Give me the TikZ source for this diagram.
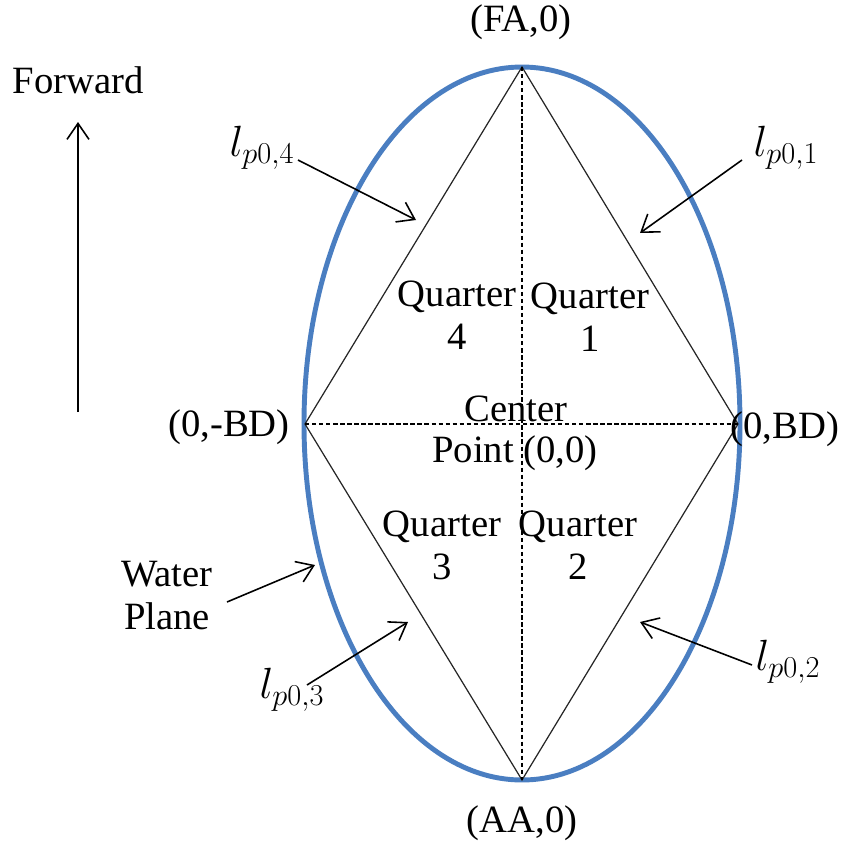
\documentclass[tikz,border=0pt]{standalone}
\usepackage{fontspec}
\setmainfont{Liberation Serif}
\DeclareMathSizes{22}{24}{17}{13}
\usetikzlibrary{arrows.meta}
\definecolor{wpblue}{RGB}{74,126,193}
\tikzset{
  lbl/.style={inner sep=0pt, font=\fontsize{22}{24.5}\selectfont, align=center},
  pointer/.style={line width=0.9pt, -{Straight Barb[length=3.2mm,width=4.4mm,line width=0.9pt]}},
  edge/.style={line width=0.7pt, draw=black!85},
  axisline/.style={line width=0.7pt, dashed, dash pattern=on 2.5pt off 1.5pt},
}
\begin{document}
\begin{tikzpicture}[x=0.02cm,y=-0.02cm]
\useasboundingbox (0,0) rectangle (855,845);
% vertices
\coordinate (T) at (522,67);
\coordinate (B) at (522,780);
\coordinate (L) at (305,424);
\coordinate (R) at (738,424);
% water plane
\draw[wpblue, line width=2.8pt] (522,423.5) ellipse [x radius=218, y radius=356.5];
% diamond
\draw[edge] (T) -- (R) -- (B) -- (L) -- cycle;
\draw[axisline] (T) -- (B);
\draw[axisline] (L) -- (R);
% vertex labels
\node[lbl] (fa) at (521,22) {(FA,0)};
\node[lbl] (aa) at (522,823) {(AA,0)};
\node[lbl] (lbd) at (229,427) {(0,-BD)};
\node[lbl] (rbd) at (785,429) {(0,BD)};
% quarters
\node[lbl] (q4) at (457,315) {Quarter\\4};
\node[lbl] (q1) at (590,317) {Quarter\\1};
\node[lbl] (q3) at (442,545) {Quarter\\3};
\node[lbl] (q2) at (578,545) {Quarter\\2};
\node[lbl] (ctr) at (516,409) {Center};
\node[lbl] (pt) at (515,453) {Point (0,0)};
% forward
\node[lbl] (fwd) at (78,80) {Forward};
\coordinate (fwdS) at (78,412);
\coordinate (fwdE) at (78,122);
\draw[pointer] (fwdS) -- (fwdE);
% water plane label
\node[lbl] (wp) at (167,596) {Water\\Plane};
\coordinate (wpS) at (227,602);
\coordinate (wpE) at (315,565);
\draw[pointer] (wpS) -- (wpE);
% l labels
\node[lbl] (l4) at (262,148) {$l_{p0,4}$};
\coordinate (l4S) at (298,160);
\coordinate (l4E) at (416,220);
\draw[pointer] (l4S) -- (l4E);
\node[lbl] (l1) at (786,148) {$l_{p0,1}$};
\coordinate (l1S) at (742,160);
\coordinate (l1E) at (640,233);
\draw[pointer] (l1S) -- (l1E);
\node[lbl] (l2) at (788,662) {$l_{p0,2}$};
\coordinate (l2S) at (752,665);
\coordinate (l2E) at (640,622);
\draw[pointer] (l2S) -- (l2E);
\node[lbl] (l3) at (292,690) {$l_{p0,3}$};
\coordinate (l3S) at (307,685);
\coordinate (l3E) at (408,622);
\draw[pointer] (l3S) -- (l3E);
\end{tikzpicture}
\end{document}
